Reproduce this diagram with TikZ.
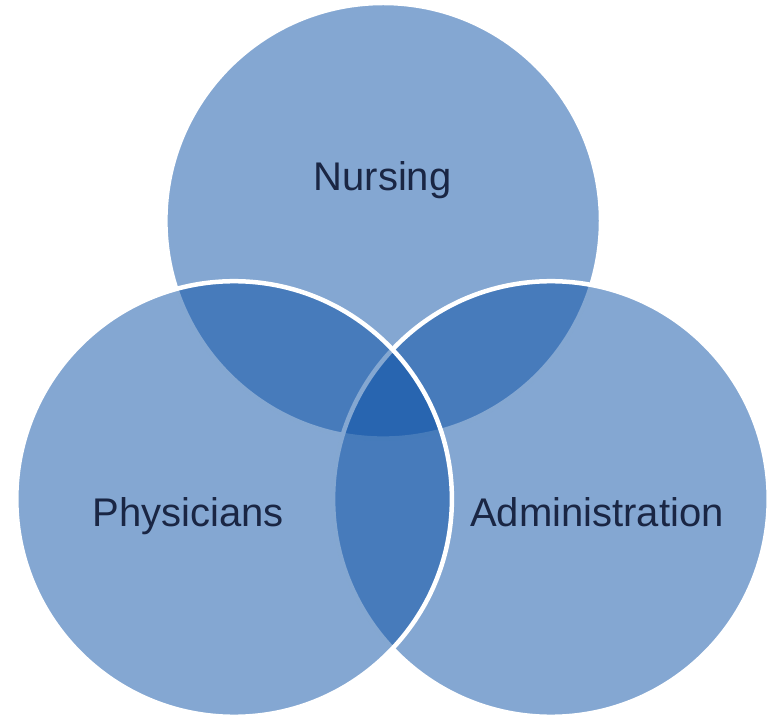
\documentclass[tikz,border=0pt]{standalone}
\usepackage{fontspec}
\setmainfont{Liberation Sans}
\definecolor{vennblue}{RGB}{10,80,165}
\definecolor{labelnavy}{RGB}{26,38,68}
\tikzset{
  venn/.style={circle, minimum size=435.6pt, inner sep=0pt, fill=vennblue, fill opacity=0.5, draw=white, line width=4.5pt, draw opacity=1},
  lbl/.style={text=labelnavy, font=\fontsize{40}{48}\selectfont, anchor=base, inner sep=0pt}
}
\begin{document}
\begin{tikzpicture}[x=1pt,y=1pt]
\useasboundingbox (0,0) rectangle (775,717);
\node[venn] (nursing) at (383.2,496.2) {};
\node[venn] (admin) at (550.9,218) {};
\node[venn] (phys) at (234.1,218) {};
\node[lbl] (tn) at (382.5,526.3) {Nursing};
\node[lbl] (tp) at (188,190) {Physicians};
\node[lbl] (ta) at (597,190) {Administration};
\end{tikzpicture}
\end{document}
